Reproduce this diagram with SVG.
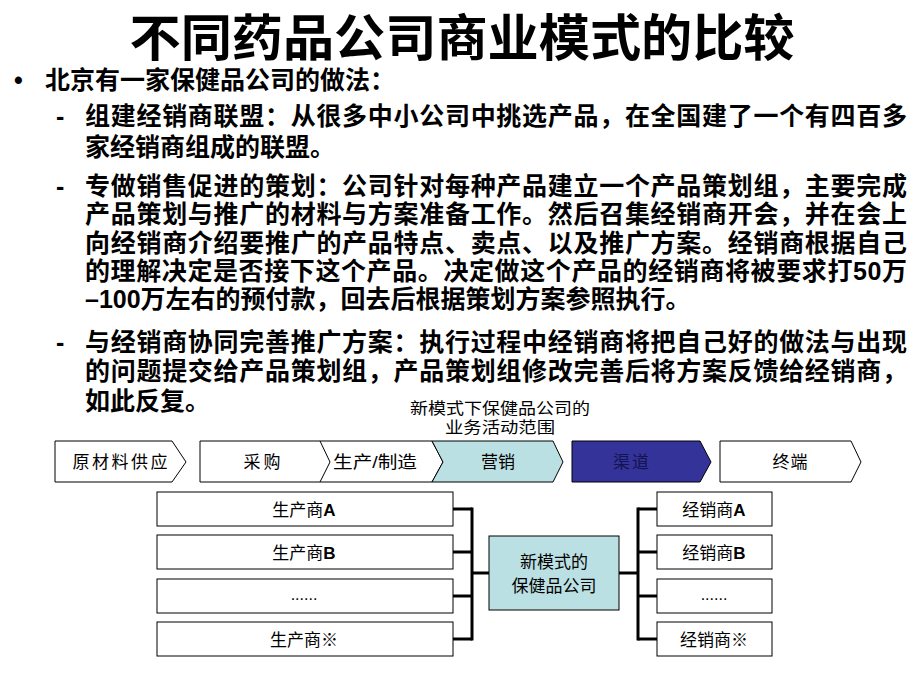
<svg xmlns="http://www.w3.org/2000/svg" width="920" height="690" viewBox="0 0 920 690">
<style>
.ti{font-family:"Liberation Sans","Noto Sans CJK SC",sans-serif;font-weight:bold;font-size:50px;fill:#000}
.bd{font-family:"Liberation Sans","Noto Sans CJK SC",sans-serif;font-weight:bold;font-size:25px;fill:#000}
.sm{font-family:"Liberation Sans","Noto Sans CJK SC",sans-serif;font-size:16px;fill:#000;text-anchor:middle}
.lb{font-family:"Liberation Sans","Noto Sans CJK SC",sans-serif;font-size:17px;fill:#000;text-anchor:middle}
.bx{fill:#fff;stroke:#000;stroke-width:1}
.tl{fill:#BBE0E3;stroke:#000;stroke-width:1}
.nv{fill:#333399;stroke:#000;stroke-width:1}
.cn{fill:none;stroke:#000;stroke-width:3}
</style>
<rect width="920" height="690" fill="#fff"/>
<g id="title">
<text class="ti" x="462" y="56" text-anchor="middle" textLength="665" lengthAdjust="spacingAndGlyphs">不同药品公司商业模式的比较</text>
</g>
<g id="body">
<text class="bd" x="14" y="89">•</text>
<text class="bd" x="45" y="89">北京有一家保健品公司的做法：</text>
<text class="bd" x="56" y="125">-</text>
<text class="bd" x="85" y="125" textLength="822" lengthAdjust="spacing">组建经销商联盟：从很多中小公司中挑选产品，在全国建了一个有四百多</text>
<text class="bd" x="85" y="156">家经销商组成的联盟。</text>
<text class="bd" x="56" y="195">-</text>
<text class="bd" x="85" y="195" textLength="822" lengthAdjust="spacing">专做销售促进的策划：公司针对每种产品建立一个产品策划组，主要完成</text>
<text class="bd" x="85" y="223" textLength="822" lengthAdjust="spacing">产品策划与推广的材料与方案准备工作。然后召集经销商开会，并在会上</text>
<text class="bd" x="85" y="252" textLength="822" lengthAdjust="spacing">向经销商介绍要推广的产品特点、卖点、以及推广方案。经销商根据自己</text>
<text class="bd" x="85" y="280" textLength="822" lengthAdjust="spacing">的理解决定是否接下这个产品。决定做这个产品的经销商将被要求打50万</text>
<text class="bd" x="85" y="308">–100万左右的预付款，回去后根据策划方案参照执行。</text>
<text class="bd" x="56" y="351">-</text>
<text class="bd" x="85" y="351" textLength="822" lengthAdjust="spacing">与经销商协同完善推广方案：执行过程中经销商将把自己好的做法与出现</text>
<text class="bd" x="85" y="380" textLength="822" lengthAdjust="spacing">的问题提交给产品策划组，产品策划组修改完善后将方案反馈给经销商，</text>
<text class="bd" x="85" y="410">如此反复。</text>
</g>
<g id="scope-label">
<text class="sm" x="500" y="414" textLength="180" lengthAdjust="spacingAndGlyphs">新模式下保健品公司的</text>
<text class="sm" x="500" y="433" textLength="110" lengthAdjust="spacingAndGlyphs">业务活动范围</text>
</g>
<g id="chain-raw">
<polygon class="bx" points="55,441 172,441 186,462 172,482 55,482"/>
<text class="lb" x="120" y="468" textLength="95" lengthAdjust="spacing">原材料供应</text>
</g>
<g id="chain-purchase">
<polygon class="bx" points="200,441 432,441 443,462 432,482 200,482"/>
<polyline fill="none" stroke="#000" stroke-width="1" points="320,441 330,462 320,482"/>
<text class="lb" x="262" y="468" textLength="37" lengthAdjust="spacing">采购</text>
<text class="lb" x="375" y="468" textLength="84" lengthAdjust="spacingAndGlyphs">生产/制造</text>
</g>
<g id="chain-marketing">
<polygon class="tl" points="432,441 553,441 563,462 553,482 432,482 443,462"/>
<text class="lb" x="498" y="468" textLength="34" lengthAdjust="spacing">营销</text>
</g>
<g id="chain-channel">
<polygon class="nv" points="572,441 700,441 711,462 700,482 572,482"/>
<text class="lb" x="631" y="468" style="fill:#141450" textLength="36" lengthAdjust="spacing">渠道</text>
</g>
<g id="chain-terminal">
<polygon class="bx" points="720,441 851,441 861,462 851,482 720,482"/>
<text class="lb" x="790" y="468" textLength="35" lengthAdjust="spacing">终端</text>
</g>
<g id="connectors">
<polyline class="cn" points="453,509 472,509"/>
<polyline class="cn" points="453,552 472,552"/>
<polyline class="cn" points="453,596 472,596"/>
<polyline class="cn" points="453,639 472,639"/>
<polyline class="cn" points="472,507.5 472,640.5"/>
<polyline class="cn" points="472,573 489,573"/>
<polyline class="cn" points="619,573 638,573"/>
<polyline class="cn" points="638,507.5 638,640.5"/>
<polyline class="cn" points="638,509 657,509"/>
<polyline class="cn" points="638,552 657,552"/>
<polyline class="cn" points="638,596 657,596"/>
<polyline class="cn" points="638,639 657,639"/>
</g>
<g id="maker-a">
<rect class="bx" x="157" y="492" width="296" height="34"/>
<text class="lb" x="304" y="516">生产商<tspan font-weight="bold">A</tspan></text>
</g>
<g id="maker-b">
<rect class="bx" x="157" y="535" width="296" height="34"/>
<text class="lb" x="304" y="559">生产商<tspan font-weight="bold">B</tspan></text>
</g>
<g id="maker-etc">
<rect class="bx" x="157" y="579" width="296" height="34"/>
<text class="sm" x="304" y="600" font-size="13">......</text>
</g>
<g id="maker-x">
<rect class="bx" x="157" y="622" width="296" height="34"/>
<text class="lb" x="304" y="646">生产商※</text>
</g>
<g id="company">
<rect class="tl" x="489" y="536" width="130" height="74"/>
<text class="lb" x="554" y="568" font-size="18">新模式的</text>
<text class="lb" x="554" y="592" font-size="18">保健品公司</text>
</g>
<g id="dealer-a">
<rect class="bx" x="657" y="492" width="115" height="34"/>
<text class="lb" x="714" y="516">经销商<tspan font-weight="bold">A</tspan></text>
</g>
<g id="dealer-b">
<rect class="bx" x="657" y="535" width="115" height="34"/>
<text class="lb" x="714" y="559">经销商<tspan font-weight="bold">B</tspan></text>
</g>
<g id="dealer-etc">
<rect class="bx" x="657" y="579" width="115" height="34"/>
<text class="sm" x="714" y="600" font-size="13">......</text>
</g>
<g id="dealer-x">
<rect class="bx" x="657" y="622" width="115" height="34"/>
<text class="lb" x="714" y="646">经销商※</text>
</g>
</svg>
